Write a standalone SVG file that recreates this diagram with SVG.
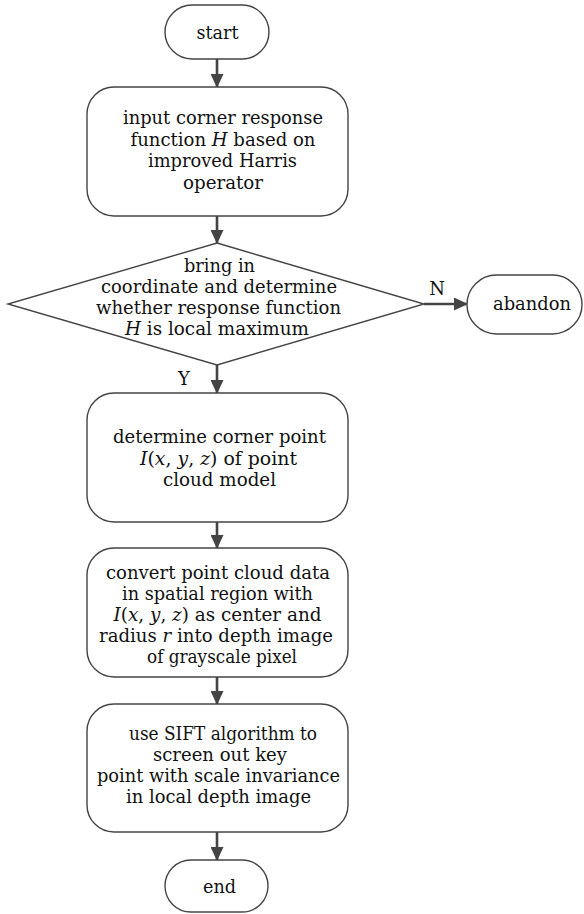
<svg xmlns="http://www.w3.org/2000/svg" width="584" height="914" viewBox="0 0 584 914">
<style>
.shape{fill:#fff;stroke:#444;stroke-width:1.4}
.conn{stroke:#444;stroke-width:2.6;fill:none}
text{font-family:"DejaVu Serif","Liberation Serif",serif;font-size:18px;fill:#111;text-anchor:middle}
.i{font-style:italic}
</style>
<defs>
<marker id="ah" viewBox="0 0 14 13" refX="13" refY="6.5" markerWidth="14" markerHeight="13" markerUnits="userSpaceOnUse" orient="auto">
<path d="M0,0 L14,6.5 L0,13 Z" fill="#444"/>
</marker>
</defs>
<rect width="584" height="914" fill="#fff"/>
<g id="connectors">
<line class="conn" x1="217" y1="59" x2="217" y2="87" marker-end="url(#ah)"/>
<line class="conn" x1="217" y1="216" x2="217" y2="243" marker-end="url(#ah)"/>
<line class="conn" x1="424" y1="304" x2="467" y2="304" marker-end="url(#ah)"/>
<line class="conn" x1="217" y1="365" x2="217" y2="393" marker-end="url(#ah)"/>
<line class="conn" x1="217" y1="522" x2="217" y2="548" marker-end="url(#ah)"/>
<line class="conn" x1="217" y1="677" x2="217" y2="704" marker-end="url(#ah)"/>
<line class="conn" x1="217" y1="832" x2="217" y2="860" marker-end="url(#ah)"/>
<text x="437" y="295">N</text>
<text x="184" y="385">Y</text>
</g>
<g id="start">
<rect class="shape" x="165" y="5" width="104" height="54" rx="27" ry="27"/>
<text x="217.5" y="39" textLength="42" lengthAdjust="spacingAndGlyphs">start</text>
</g>
<g id="input">
<rect class="shape" x="87" y="87" width="261" height="129" rx="27" ry="27"/>
<text x="223" y="124" textLength="200" lengthAdjust="spacingAndGlyphs">input corner response</text>
<text x="223" y="146" textLength="185" lengthAdjust="spacingAndGlyphs">function <tspan class="i">H</tspan> based on</text>
<text x="222.5" y="167" textLength="149" lengthAdjust="spacingAndGlyphs">improved Harris</text>
<text x="223" y="189" textLength="80" lengthAdjust="spacingAndGlyphs">operator</text>
</g>
<g id="decision">
<polygon class="shape" points="217,243 424,304 217,365 8,304"/>
<text x="219.5" y="272" textLength="71" lengthAdjust="spacingAndGlyphs">bring in</text>
<text x="219" y="293" textLength="236" lengthAdjust="spacingAndGlyphs">coordinate and determine</text>
<text x="218.5" y="314" textLength="245" lengthAdjust="spacingAndGlyphs">whether response function</text>
<text x="217" y="335" textLength="184" lengthAdjust="spacingAndGlyphs"><tspan class="i">H</tspan> is local maximum</text>
</g>
<g id="abandon">
<rect class="shape" x="467" y="275" width="115" height="59" rx="29.5" ry="29.5"/>
<text x="532" y="310" textLength="78" lengthAdjust="spacingAndGlyphs">abandon</text>
</g>
<g id="corner">
<rect class="shape" x="87" y="393" width="261" height="129" rx="27" ry="27"/>
<text x="219.5" y="443" textLength="213" lengthAdjust="spacingAndGlyphs">determine corner point</text>
<text x="218.5" y="465" textLength="157" lengthAdjust="spacingAndGlyphs"><tspan class="i">I</tspan>(<tspan class="i">x</tspan>, <tspan class="i">y</tspan>, <tspan class="i">z</tspan>) of point</text>
<text x="219.5" y="486" textLength="113" lengthAdjust="spacingAndGlyphs">cloud model</text>
</g>
<g id="convert">
<rect class="shape" x="87" y="548" width="261" height="129" rx="27" ry="27"/>
<text x="218" y="579" textLength="224" lengthAdjust="spacingAndGlyphs">convert point cloud data</text>
<text x="217.5" y="600" textLength="191" lengthAdjust="spacingAndGlyphs">in spatial region with</text>
<text x="217.5" y="621" textLength="208" lengthAdjust="spacingAndGlyphs"><tspan class="i">I</tspan>(<tspan class="i">x</tspan>, <tspan class="i">y</tspan>, <tspan class="i">z</tspan>) as center and</text>
<text x="216" y="642" textLength="234" lengthAdjust="spacingAndGlyphs">radius <tspan class="i">r</tspan> into depth image</text>
<text x="222" y="663" textLength="150" lengthAdjust="spacingAndGlyphs">of grayscale pixel</text>
</g>
<g id="sift">
<rect class="shape" x="87" y="704" width="261" height="128" rx="27" ry="27"/>
<text x="223" y="740" textLength="188" lengthAdjust="spacingAndGlyphs">use SIFT algorithm to</text>
<text x="220" y="761" textLength="134" lengthAdjust="spacingAndGlyphs">screen out key</text>
<text x="218.5" y="782" textLength="243" lengthAdjust="spacingAndGlyphs">point with scale invariance</text>
<text x="218.5" y="803" textLength="185" lengthAdjust="spacingAndGlyphs">in local depth image</text>
</g>
<g id="end">
<rect class="shape" x="165" y="860" width="103" height="52" rx="26" ry="26"/>
<text x="219.5" y="893" textLength="33" lengthAdjust="spacingAndGlyphs">end</text>
</g>
</svg>
